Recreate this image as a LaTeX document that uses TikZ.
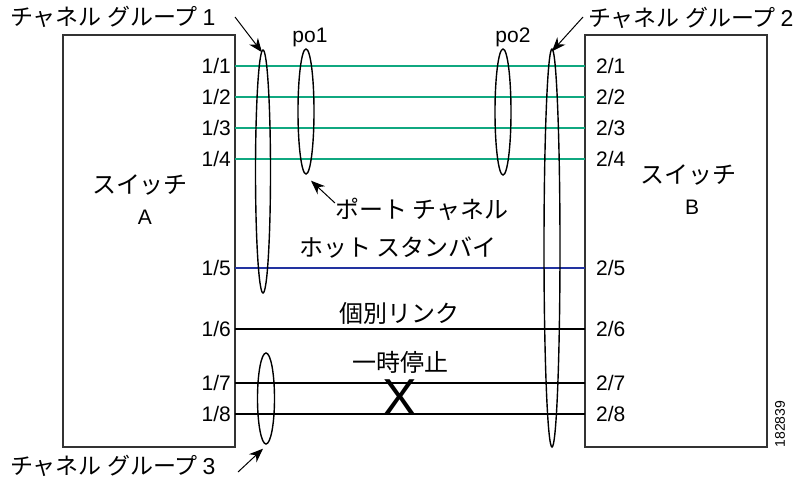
\documentclass[tikz,border=0pt]{standalone}
\usepackage{fontspec}
\setmainfont{Liberation Sans}
\newfontfamily\cjk{Noto Sans CJK JP}
\usetikzlibrary{shapes.geometric,arrows.meta}
\definecolor{lgreen}{HTML}{10A880}
\definecolor{lblue}{HTML}{2233A0}
\definecolor{boxc}{HTML}{333333}
\newcommand{\gnum}[1]{\hspace{5pt}{\rmfamily\fontsize{23}{23}\selectfont #1}}
\begin{document}
\begin{tikzpicture}[x=1pt,y=-1pt,
  switchbox/.style={draw=boxc, line width=1.1pt, inner sep=0pt, minimum height=412pt},
  port/.style={font=\fontsize{21}{21}\selectfont, inner sep=0pt},
  lab/.style={font=\cjk\fontsize{24}{24}\selectfont, inner sep=0pt},
  grplab/.style={font=\cjk\fontsize{23}{23}\selectfont, inner sep=0pt, anchor=west},
  grp/.style={draw, ellipse, line width=1.4pt, inner sep=0pt},
  ptr/.style={-{Stealth[length=14pt,width=11pt]}, line width=1pt},
  link/.style={line width=1.2pt}]
\useasboundingbox (0,0) rectangle (804,480);
% switches
\node[switchbox, minimum width=172pt] (A) at (149,241) {};
\node[switchbox, minimum width=182pt] (B) at (676,241) {};
\node[lab] (swA) at (140,185) {スイッチ};
\node[port] (swAn) at (145,217) {A};
\node[lab] (swB) at (688,175) {スイッチ};
\node[port] (swBn) at (692,207) {B};
% link end points
\foreach \n/\y in {1/66,2/97,3/128,4/159,5/268,6/329,7/383,8/414}{
  \coordinate (a\n) at (235,\y);
  \coordinate (b\n) at (585,\y);
  \node[port, anchor=east] (pa\n) at (231,\y) {1/\n};
  \node[port, anchor=west] (pb\n) at (596,\y) {2/\n};
}
\foreach \n in {1,2,3,4}{ \draw[link,lgreen] (a\n) -- (b\n); }
\draw[link,lblue] (a5) -- (b5);
\foreach \n in {6,7,8}{ \draw[link,black] (a\n) -- (b\n); }
% groups
\node[grp, minimum width=15pt, minimum height=243pt] (cg1) at (263,171.5) {};
\node[grp, minimum width=16pt, minimum height=125pt] (po1) at (306,111.5) {};
\node[grp, minimum width=16pt, minimum height=126pt] (po2) at (503,112) {};
\node[grp, minimum width=16pt, minimum height=398pt] (cg2) at (552,248) {};
\node[grp, minimum width=17pt, minimum height=91pt] (cg3) at (266,398.5) {};
% labels
\node[grplab] (cg1l) at (10,17) {チャネル グループ\gnum{1}};
\node[grplab] (cg2l) at (588,18) {チャネル グループ\gnum{2}};
\node[grplab] (cg3l) at (10,466) {チャネル グループ\gnum{3}};
\node[port] (po1l) at (310,37) {po1};
\node[port] (po2l) at (513,37) {po2};
\node[lab] (pcl) at (422,209) {ポート チャネル};
\node[lab] (hsl) at (398,248) {ホット スタンバイ};
\node[lab] (ill) at (399,313) {個別リンク};
\node[lab] (tsl) at (400,362) {一時停止};
\node[inner sep=0pt, font=\fontsize{52}{52}\selectfont] (xm) at (400,398) {X};
\node[inner sep=0pt, font=\fontsize{14}{14}\selectfont, rotate=90] (fig) at (780,424) {182839};
% pointers
\coordinate (p1) at (235,17);
\coordinate (p2) at (583,17);
\coordinate (p3) at (238,472);
\coordinate (p4) at (335,203);
\draw[ptr] (p1) -- ([xshift=-1pt,yshift=-3pt]cg1.north);
\draw[ptr] (p2) -- ([yshift=-3pt]cg2.north);
\draw[ptr] (p3) -- ([xshift=-3pt,yshift=-4pt]cg3.south);
\draw[ptr] (p4) -- ([xshift=5pt,yshift=-6pt]po1.south);
\end{tikzpicture}
\end{document}
